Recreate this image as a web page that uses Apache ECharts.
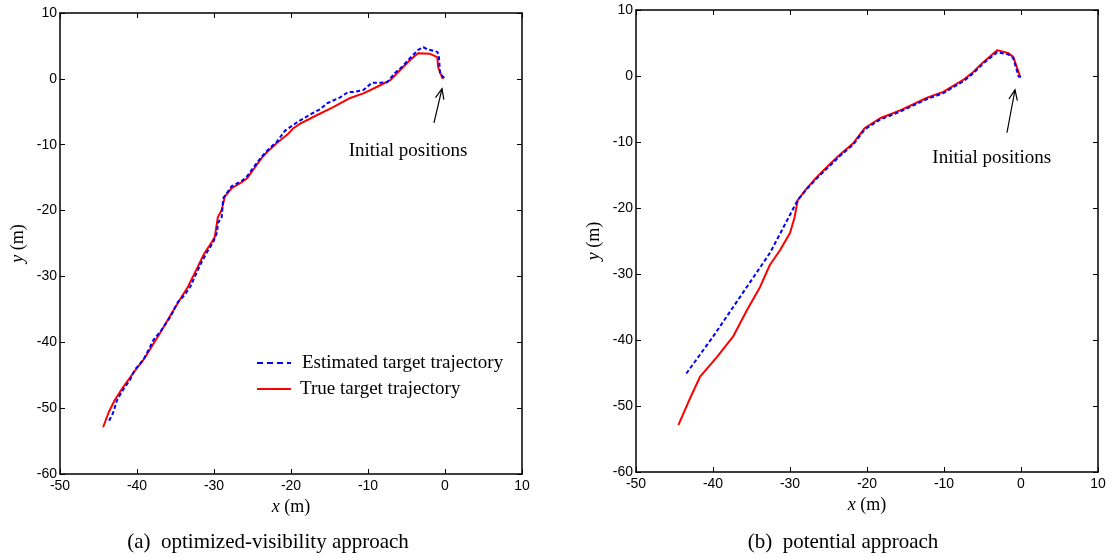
<!DOCTYPE html>
<html>
<head>
<meta charset="utf-8">
<title>Target trajectories</title>
<script src="https://cdn.jsdelivr.net/npm/echarts@6/dist/echarts.min.js"></script>
<style>
  html, body { margin: 0; padding: 0; background: #fff; }
  #chart { width: 1111px; height: 558px; }
</style>
</head>
<body>
<div id="chart"></div>
<script>
// axis ticks
var xTicks = { min: -50, max: 10, step: 10 };
var yTicks = { min: -60, max: 10, step: 10 };

// (a) optimized-visibility approach, [x, y] in metres
var trueLeft = [[-0.3,0.0],[-0.9,1.8],[-1.0,3.3],[-1.95,3.8],[-3.5,3.9],[-4.5,2.9],[-5.6,1.6],[-7.1,-0.2],[-8.8,-1.2],[-10.6,-2.2],[-12.3,-2.9],[-14.7,-4.4],[-16.8,-5.6],[-18.8,-6.8],[-19.7,-7.5],[-20.5,-8.5],[-21.8,-9.7],[-23.1,-11.1],[-23.8,-12.0],[-24.9,-13.8],[-25.7,-15.1],[-26.4,-15.7],[-27.7,-16.6],[-28.6,-17.9],[-29.0,-19.9],[-29.5,-21.0],[-29.9,-24.0],[-30.3,-24.8],[-31.3,-26.6],[-32.3,-29.0],[-33.4,-31.6],[-34.2,-33.1],[-35.5,-35.6],[-37.0,-38.6],[-39.0,-42.4],[-40.5,-44.7],[-41.8,-46.8],[-42.9,-48.8],[-43.7,-50.7],[-44.4,-52.9]];
var estLeft = [[-0.1,0.1],[-0.65,0.9],[-0.8,3.6],[-1.0,4.1],[-2.3,4.5],[-2.8,4.8],[-3.5,4.4],[-4.5,3.2],[-5.6,1.8],[-6.5,0.9],[-7.5,-0.5],[-8.4,-0.6],[-9.5,-0.6],[-10.6,-1.7],[-11.9,-2.0],[-12.6,-2.0],[-13.6,-2.8],[-15.3,-3.7],[-16.2,-4.6],[-17.5,-5.4],[-19.1,-6.5],[-20.8,-7.9],[-21.8,-9.5],[-23.1,-10.9],[-23.8,-11.8],[-24.9,-13.5],[-25.7,-14.8],[-26.4,-15.5],[-27.7,-16.3],[-28.8,-18.1],[-29.0,-21.0],[-29.5,-21.9],[-29.6,-23.3],[-30.1,-24.8],[-30.9,-26.3],[-31.6,-27.8],[-32.2,-29.3],[-33.1,-31.6],[-33.8,-32.8],[-34.7,-33.9],[-35.7,-36.2],[-36.8,-38.1],[-37.9,-39.7],[-38.3,-40.7],[-39.2,-42.7],[-40.3,-44.2],[-40.9,-45.7],[-41.8,-47.2],[-42.6,-48.8],[-43.1,-50.7],[-43.7,-52.1]];

// (b) potential approach
var trueRight = [[-0.1,-0.15],[-1.0,2.9],[-1.7,3.5],[-3.1,3.9],[-4.9,2.1],[-6.2,0.6],[-7.5,-0.6],[-10.1,-2.4],[-12.2,-3.3],[-15.7,-5.2],[-18.3,-6.4],[-20.3,-7.9],[-21.8,-10.2],[-23.5,-11.9],[-25.2,-13.8],[-26.5,-15.3],[-27.8,-17.0],[-29.0,-18.8],[-29.4,-21.4],[-30.0,-23.8],[-31.3,-26.4],[-32.6,-28.6],[-33.9,-32.0],[-35.6,-35.5],[-37.4,-39.5],[-39.5,-42.6],[-41.7,-45.6],[-43.2,-49.4],[-44.5,-52.9]];
var estRight = [[0.0,-0.1],[-0.3,-0.1],[-1.0,2.7],[-1.7,3.3],[-3.1,3.6],[-4.9,1.9],[-6.2,0.4],[-7.5,-0.8],[-10.1,-2.6],[-12.2,-3.5],[-15.7,-5.4],[-18.3,-6.6],[-20.3,-8.1],[-21.8,-10.4],[-23.5,-12.1],[-25.2,-14.0],[-26.5,-15.5],[-27.8,-17.1],[-29.0,-18.8],[-32.6,-26.8],[-36.5,-33.5],[-40.0,-39.5],[-43.6,-45.3]];

// "Initial positions" arrows: [tail, head] and label centre, in data units
var arrowLeft = [[-1.43,-6.7],[-0.39,-1.5]];
var arrowRight = [[-1.82,-8.6],[-0.78,-2.1]];
var noteLeft = [-4.8,-11.0];
var noteRight = [-3.8,-12.4];

var legendNames = ['Estimated target trajectory', 'True target trajectory'];
var captions = ['(a)  optimized-visibility approach', '(b)  potential approach'];

var chart = echarts.init(document.getElementById('chart'), null, {renderer: 'canvas'});

var sans = 'Liberation Sans, Arial, sans-serif';
var serif = 'Liberation Serif, Times New Roman, serif';
var axisLine = {show: true, onZero: false, lineStyle: {color: '#000', width: 1.5}};

function mainX(gi) {
  return {
    gridIndex: gi, type: 'value', min: xTicks.min, max: xTicks.max, interval: xTicks.step,
    axisLine: axisLine,
    axisTick: {show: true, inside: true, length: 5, lineStyle: {color: '#000', width: 1}},
    axisLabel: {color: '#000', fontFamily: sans, fontSize: 14, margin: 5, showMinLabel: true, showMaxLabel: true},
    splitLine: {show: false},
    name: '{i|x} (m)', nameLocation: 'middle', nameGap: 24,
    nameTextStyle: {color: '#000', fontFamily: serif, fontSize: 18,
      rich: {i: {fontStyle: 'italic', fontFamily: serif, fontSize: 18, color: '#000'}}}
  };
}
function topX(gi) {
  return {
    gridIndex: gi, type: 'value', position: 'top', min: xTicks.min, max: xTicks.max, interval: xTicks.step,
    axisLine: axisLine,
    axisTick: {show: true, inside: true, length: 5, lineStyle: {color: '#000', width: 1}},
    axisLabel: {show: false}, splitLine: {show: false}
  };
}
function mainY(gi) {
  return {
    gridIndex: gi, type: 'value', min: yTicks.min, max: yTicks.max, interval: yTicks.step,
    axisLine: axisLine,
    axisTick: {show: true, inside: true, length: 5, lineStyle: {color: '#000', width: 1}},
    axisLabel: {color: '#000', fontFamily: sans, fontSize: 14, margin: 3, showMinLabel: true, showMaxLabel: true},
    splitLine: {show: false},
    name: '{i|y} (m)', nameLocation: 'middle', nameGap: 33, nameRotate: 90,
    nameTextStyle: {color: '#000', fontFamily: serif, fontSize: 18,
      rich: {i: {fontStyle: 'italic', fontFamily: serif, fontSize: 18, color: '#000'}}}
  };
}
function rightY(gi) {
  return {
    gridIndex: gi, type: 'value', position: 'right', min: yTicks.min, max: yTicks.max, interval: yTicks.step,
    axisLine: axisLine,
    axisTick: {show: true, inside: true, length: 5, lineStyle: {color: '#000', width: 1}},
    axisLabel: {show: false}, splitLine: {show: false}
  };
}
function lineSeries(name, data, xi, yi, color, dashed) {
  return {
    name: name, type: 'line', data: data, xAxisIndex: xi, yAxisIndex: yi,
    showSymbol: false, symbol: 'none', smooth: false, silent: true,
    lineStyle: {color: color, width: 2, type: dashed ? [4, 2.5] : 'solid'},
    z: dashed ? 3 : 2
  };
}

var option = {
  backgroundColor: '#fff',
  animation: false,
  grid: [
    {left: 60, top: 13, width: 462, height: 461},
    {left: 636, top: 10, width: 462, height: 462}
  ],
  xAxis: [mainX(0), topX(0), mainX(1), topX(1)],
  yAxis: [mainY(0), rightY(0), mainY(1), rightY(1)],
  series: [
    lineSeries(legendNames[1], trueLeft, 0, 0, '#ff0000', false),
    lineSeries(legendNames[0], estLeft, 0, 0, '#0000ff', true),
    lineSeries(legendNames[1], trueRight, 2, 2, '#ff0000', false),
    lineSeries(legendNames[0], estRight, 2, 2, '#0000ff', true)
  ]
};
chart.setOption(option);

// annotations placed from data coordinates
function arrowGraphic(seriesIndex, arrow, note) {
  var p0 = chart.convertToPixel({seriesIndex: seriesIndex}, arrow[0]);
  var p1 = chart.convertToPixel({seriesIndex: seriesIndex}, arrow[1]);
  var ang = Math.atan2(p1[1] - p0[1], p1[0] - p0[0]);
  var L = 11, a = 0.4;
  var h1 = [p1[0] - L * Math.cos(ang - a), p1[1] - L * Math.sin(ang - a)];
  var h2 = [p1[0] - L * Math.cos(ang + a), p1[1] - L * Math.sin(ang + a)];
  var pn = chart.convertToPixel({seriesIndex: seriesIndex}, note);
  return [
    {type: 'line', shape: {x1: p0[0], y1: p0[1], x2: p1[0], y2: p1[1]}, style: {stroke: '#000', lineWidth: 1.2}},
    {type: 'polyline', shape: {points: [h1, p1, h2]}, style: {stroke: '#000', lineWidth: 1.2, fill: null}},
    {type: 'text', x: pn[0], y: pn[1], style: {text: 'Initial positions', fill: '#000', font: '19px ' + serif, align: 'center', verticalAlign: 'middle'}}
  ];
}

var graphics = [].concat(arrowGraphic(0, arrowLeft, noteLeft), arrowGraphic(2, arrowRight, noteRight));

// legend of panel (a)
graphics.push(
  {type: 'line', shape: {x1: 257, y1: 363, x2: 291, y2: 363}, style: {stroke: '#0000ff', lineWidth: 2, lineDash: [6, 4]}},
  {type: 'text', x: 302, y: 363, style: {text: legendNames[0], fill: '#000', font: '19px ' + serif, verticalAlign: 'middle'}},
  {type: 'line', shape: {x1: 257, y1: 389, x2: 291, y2: 389}, style: {stroke: '#ff0000', lineWidth: 2}},
  {type: 'text', x: 300, y: 389, style: {text: legendNames[1], fill: '#000', font: '19px ' + serif, verticalAlign: 'middle'}}
);

// captions
graphics.push(
  {type: 'text', x: 268, y: 542, style: {text: captions[0], fill: '#000', font: '21px ' + serif, align: 'center', verticalAlign: 'middle'}},
  {type: 'text', x: 843, y: 542, style: {text: captions[1], fill: '#000', font: '21px ' + serif, align: 'center', verticalAlign: 'middle'}}
);

chart.setOption({graphic: graphics});
</script>
</body>
</html>
